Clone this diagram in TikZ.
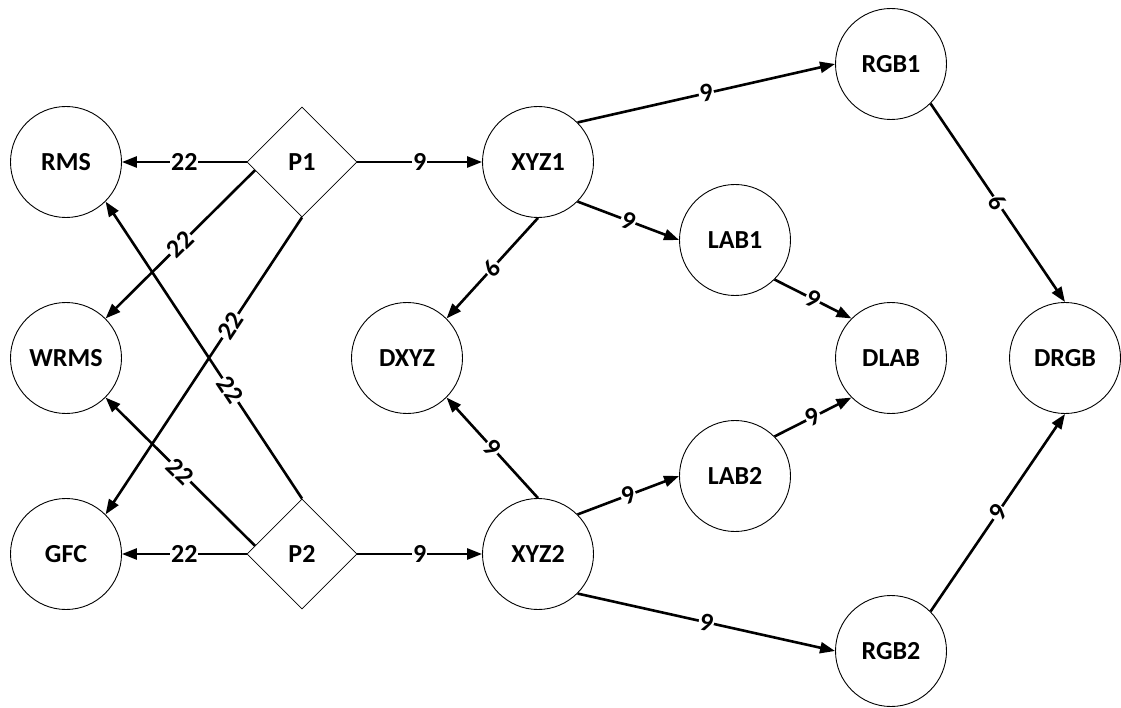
\documentclass[tikz,border=0pt]{standalone}
\usepackage{fontspec}
\setmainfont{Carlito}
\usetikzlibrary{shapes.geometric,arrows.meta,calc}
\tikzset{
  circ/.style={circle,draw=black,line width=0.9pt,minimum size=111pt,inner sep=0pt,font=\fontsize{26}{30}\selectfont\bfseries},
  diam/.style={diamond,draw=black,line width=0.8pt,minimum width=110pt,minimum height=110pt,inner sep=0pt,font=\fontsize{26}{30}\selectfont\bfseries},
  edge/.style={line width=2.6pt,-{Triangle[length=15pt,width=11pt]}},
  lab/.style={fill=white,inner sep=1pt,sloped,font=\fontsize{26}{30}\selectfont\bfseries},
  flip/.style={rotate=180}
}
\begin{document}
\begin{tikzpicture}[x=1pt,y=-1pt]
\useasboundingbox (0,0) rectangle (1121,708);
\node[circ] (RMS) at (66,162) {RMS};
\node[circ] (WRMS) at (66,358) {WRMS};
\node[circ] (GFC) at (66,554) {GFC};
\node[diam] (P1) at (302,162) {P1};
\node[diam] (P2) at (302,554) {P2};
\node[circ] (XYZ1) at (538,162) {XYZ1};
\node[circ] (XYZ2) at (538,554) {XYZ2};
\node[circ] (DXYZ) at (407,358) {DXYZ};
\node[circ] (LAB1) at (735,240) {LAB1};
\node[circ] (LAB2) at (735,476) {LAB2};
\node[circ] (DLAB) at (891,358) {DLAB};
\node[circ] (RGB1) at (891,64) {RGB1};
\node[circ] (RGB2) at (891,651) {RGB2};
\node[circ] (DRGB) at (1065,358) {DRGB};
\coordinate (P1a) at ($(P1.west)!0.15!(P1.south)$);
\coordinate (P2a) at ($(P2.west)!0.15!(P2.north)$);
% left side
\draw[edge] (P1.west) -- node[lab]{22} (RMS.east);
\draw[edge] (P1a) -- node[lab]{22} (WRMS.north east);
\draw[edge] (P1.south) -- node[lab,pos=0.365]{22} (GFC.north east);
\draw[edge] (P2.north) -- node[lab,pos=0.365]{22} (RMS.south east);
\draw[edge] (P2a) -- node[lab]{22} (WRMS.south east);
\draw[edge] (P2.west) -- node[lab]{22} (GFC.east);
% middle
\draw[edge] (P1.east) -- node[lab]{9} (XYZ1.west);
\draw[edge] (P2.east) -- node[lab]{9} (XYZ2.west);
\draw[edge] (XYZ1.north east) -- node[lab]{9} (RGB1.west);
\draw[edge] (XYZ1.south east) -- node[lab]{9} (LAB1.west);
\draw[edge] (XYZ1.south) -- node[lab,flip]{9} (DXYZ.north east);
\draw[edge] (XYZ2.north) -- node[lab]{9} (DXYZ.south east);
\draw[edge] (XYZ2.north east) -- node[lab]{9} (LAB2.west);
\draw[edge] (XYZ2.south east) -- node[lab]{9} (RGB2.west);
% right
\draw[edge] (LAB1.south east) -- node[lab]{9} (DLAB.north west);
\draw[edge] (LAB2.north east) -- node[lab]{9} (DLAB.south west);
\draw[edge] (RGB1.south east) -- node[lab,flip]{9} (DRGB.north);
\draw[edge] (RGB2.north east) -- node[lab]{9} (DRGB.south);
\end{tikzpicture}
\end{document}
